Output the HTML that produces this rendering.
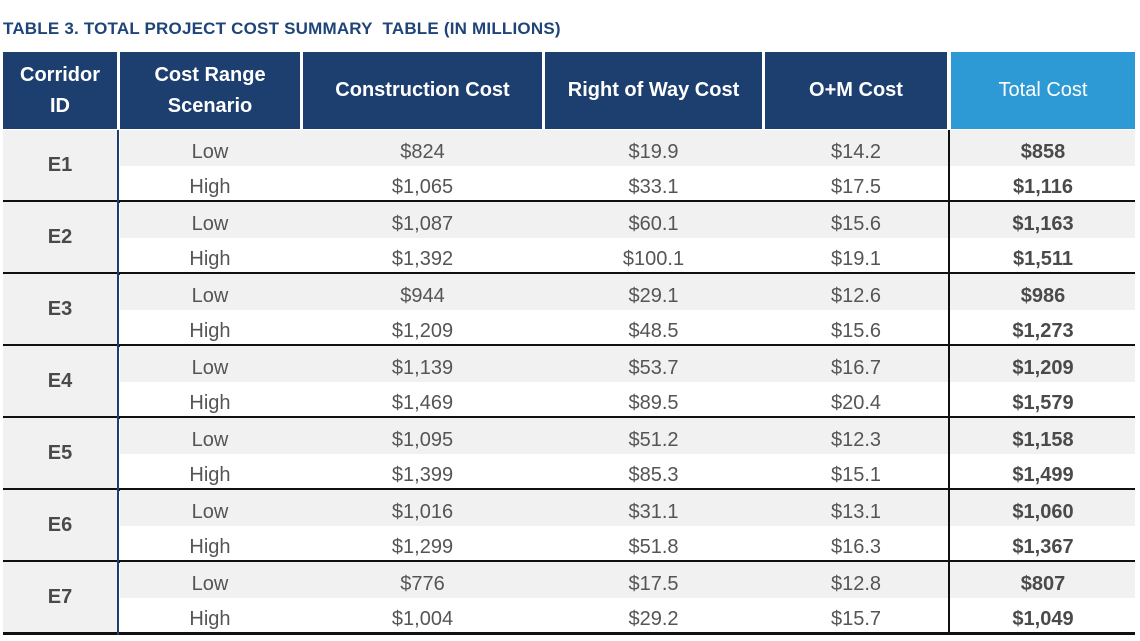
<!DOCTYPE html><html><head><style>
body{margin:0;width:1140px;height:641px;background:#fff;font-family:"Liberation Sans",sans-serif;position:relative;overflow:hidden}
.a{position:absolute}
.t{left:3px;top:19px;font-size:17px;font-weight:bold;color:#1f4478;letter-spacing:0.2px}
.h{background:#1c3f70;color:#fff;font-weight:bold;font-size:20px;display:flex;align-items:center;justify-content:center;text-align:center;line-height:31px;top:52px;height:77px}
.c{font-size:20px;color:#555;display:flex;align-items:center;justify-content:center;height:36px}
.b{font-weight:bold;color:#4a4a4a}
</style></head><body>
<div class="a t">TABLE 3. TOTAL PROJECT COST SUMMARY&nbsp; TABLE (IN MILLIONS)</div>
<div class="a h" style="left:3px;width:114px">Corridor<br>ID</div>
<div class="a h" style="left:120px;width:180px">Cost Range<br>Scenario</div>
<div class="a h" style="left:303px;width:239px">Construction Cost</div>
<div class="a h" style="left:545px;width:217px">Right of Way Cost</div>
<div class="a h" style="left:765px;width:182px">O+M Cost</div>
<div class="a h" style="left:951px;width:184px;background:#2e9ad5;font-weight:normal">Total Cost</div>
<div id="g"></div>
<script>
var d=[["E1","$824","$19.9","$14.2","$858","$1,065","$33.1","$17.5","$1,116"],
["E2","$1,087","$60.1","$15.6","$1,163","$1,392","$100.1","$19.1","$1,511"],
["E3","$944","$29.1","$12.6","$986","$1,209","$48.5","$15.6","$1,273"],
["E4","$1,139","$53.7","$16.7","$1,209","$1,469","$89.5","$20.4","$1,579"],
["E5","$1,095","$51.2","$12.3","$1,158","$1,399","$85.3","$15.1","$1,499"],
["E6","$1,016","$31.1","$13.1","$1,060","$1,299","$51.8","$16.3","$1,367"],
["E7","$776","$17.5","$12.8","$807","$1,004","$29.2","$15.7","$1,049"]];
var cols=[[120,180],[303,239],[545,217],[765,182],[951,184]];
var h="";
d.forEach(function(r,i){var y=130+i*72;
h+='<div class="a" style="left:3px;top:'+y+'px;width:114px;height:71px;background:#f1f1f1"></div>';
h+='<div class="a c b" style="left:3px;top:'+y+'px;width:114px;height:71px">'+r[0]+'</div>';
h+='<div class="a" style="left:120px;top:'+y+'px;width:1015px;height:36px;background:#f1f1f1"></div>';
var lo=["Low",r[1],r[2],r[3],r[4]],hi=["High",r[5],r[6],r[7],r[8]];
for(var k=0;k<5;k++){var bb=k==4?" b":"";
h+='<div class="a c'+bb+'" style="left:'+cols[k][0]+'px;top:'+(y+4)+'px;width:'+cols[k][1]+'px">'+lo[k]+'</div>';
h+='<div class="a c'+bb+'" style="left:'+cols[k][0]+'px;top:'+(y+39)+'px;width:'+cols[k][1]+'px">'+hi[k]+'</div>';}
h+='<div class="a" style="left:3px;top:'+(y+70)+'px;width:1132px;height:3px;background:#111"></div>';
});
h+='<div class="a" style="left:117px;top:130px;width:2px;height:505px;background:#1c3f70"></div>';
h+='<div class="a" style="left:948px;top:130px;width:2px;height:505px;background:#111"></div>';
document.getElementById("g").innerHTML=h;
</script>
</body></html>
